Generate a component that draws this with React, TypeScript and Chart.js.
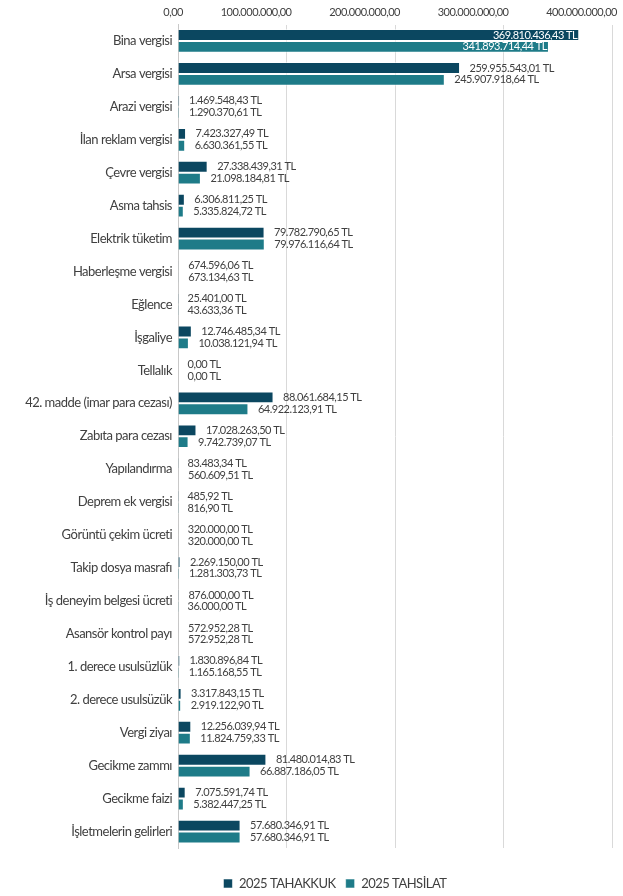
import React, { useEffect, useRef } from 'react';
import { Chart, registerables } from 'chart.js';

Chart.register(...registerables);

const categories = [
  'Bina vergisi',
  'Arsa vergisi',
  'Arazi vergisi',
  'İlan reklam vergisi',
  'Çevre vergisi',
  'Asma tahsis',
  'Elektrik tüketim',
  'Haberleşme vergisi',
  'Eğlence',
  'İşgaliye',
  'Tellalık',
  '42. madde (imar para cezası)',
  'Zabıta para cezası',
  'Yapılandırma',
  'Deprem ek vergisi',
  'Görüntü çekim ücreti',
  'Takip dosya masrafı',
  'İş deneyim belgesi ücreti',
  'Asansör kontrol payı',
  '1. derece usulsüzlük',
  '2. derece usulsüzük',
  'Vergi ziyaı',
  'Gecikme zammı',
  'Gecikme faizi',
  'İşletmelerin gelirleri',
];

const tahakkuk = [
  369810436.43, 259955543.01, 1469548.43, 7423327.49, 27338439.31, 6306811.25,
  79782790.65, 674596.06, 25401.0, 12746485.34, 0, 88061684.15, 17028263.5,
  83483.34, 485.92, 320000.0, 2269150.0, 876000.0, 572952.28, 1830896.84,
  3317843.15, 12256039.94, 81480014.83, 7075591.74, 57680346.91,
];

const tahsilat = [
  341893714.44, 245907918.64, 1290370.61, 6630361.55, 21098184.81, 5335824.72,
  79976116.64, 673134.63, 43633.36, 10038121.94, 0, 64922123.91, 9742739.07,
  560609.51, 816.9, 320000.0, 1281303.73, 36000.0, 572952.28, 1165168.55,
  2919122.9, 11824759.33, 66887186.05, 5382447.25, 57680346.91,
];

const seriesNames = ['2025 TAHAKKUK', '2025 TAHSİLAT'];
const xTickValues = [0, 100000000, 200000000, 300000000, 400000000];

const COLORS = ['#0B4760', '#1E7B88'];
const FONT = 'Lato, "Open Sans", sans-serif';
const SPACING = '-0.5px';
const LEGEND_SHIFT = 29;

function fmt(v: number): string {
  const fixed = v.toFixed(2);
  const [i, d] = fixed.split('.');
  const withDots = i.replace(/\B(?=(\d{3})+(?!\d))/g, '.');
  return withDots + ',' + d;
}

const narrowText = {
  id: 'narrowText',
  beforeLayout(chart: any) {
    (chart.ctx as any).letterSpacing = SPACING;
  },
  afterLayout(chart: any) {
    if (chart.legend) {
      chart.legend.left += LEGEND_SHIFT;
      chart.legend.right += LEGEND_SHIFT;
    }
  },
  beforeDraw(chart: any) {
    (chart.ctx as any).letterSpacing = SPACING;
  },
};

const valueLabels = {
  id: 'valueLabels',
  afterDatasetsDraw(chart: any) {
    const ctx = chart.ctx;
    ctx.save();
    ctx.letterSpacing = SPACING;
    ctx.font = `11px ${FONT}`;
    ctx.textBaseline = 'middle';
    chart.data.datasets.forEach((ds: any, di: number) => {
      const meta = chart.getDatasetMeta(di);
      meta.data.forEach((bar: any, i: number) => {
        const v = ds.data[i];
        const text = fmt(v) + ' TL';
        const w = ctx.measureText(text).width;
        const x = bar.x;
        const y = bar.y;
        if (x + 9.5 + w > chart.width - 2) {
          ctx.fillStyle = '#ffffff';
          ctx.textAlign = 'right';
          ctx.fillText(text, x - 2, y);
        } else {
          ctx.fillStyle = '#404040';
          ctx.textAlign = 'left';
          ctx.fillText(text, x + 9.5, y);
        }
      });
    });
    ctx.restore();
  },
};

export default function App() {
  const ref = useRef<HTMLCanvasElement | null>(null);

  useEffect(() => {
    if (!ref.current) return;
    const chart = new Chart(ref.current, {
      type: 'bar',
      data: {
        labels: categories,
        datasets: [
          {
            label: seriesNames[0],
            data: tahakkuk,
            backgroundColor: COLORS[0],
            borderColor: 'rgba(255,255,255,0.55)',
            borderWidth: 1,
            categoryPercentage: 0.72,
            barPercentage: 1,
          },
          {
            label: seriesNames[1],
            data: tahsilat,
            backgroundColor: COLORS[1],
            borderColor: 'rgba(255,255,255,0.55)',
            borderWidth: 1,
            categoryPercentage: 0.72,
            barPercentage: 1,
          },
        ],
      },
      plugins: [narrowText, valueLabels],
      options: {
        indexAxis: 'y',
        animation: false,
        responsive: false,
        maintainAspectRatio: false,
        layout: { padding: { left: 0, right: 11, top: 0, bottom: -4 } },
        scales: {
          x: {
            position: 'top',
            min: 0,
            max: 400000000,
            afterBuildTicks: (scale: any) => {
              scale.ticks = xTickValues.map((v) => ({ value: v }));
            },
            afterFit: (scale: any) => {
              scale.height = 24.5;
            },
            grid: { color: '#d9d9d9', drawTicks: false },
            border: { display: false },
            ticks: {
              align: 'end',
              labelOffset: 5,
              padding: 5,
              color: '#404040',
              font: { family: FONT, size: 11 },
              callback: (v: any) => fmt(Number(v)),
            },
          },
          x2: {
            type: 'linear',
            position: 'bottom',
            display: true,
            grid: { display: false, drawTicks: false },
            border: { display: false },
            ticks: { display: false },
            afterFit: (scale: any) => {
              scale.height = 19;
            },
          },
          y: {
            afterFit: (scale: any) => {
              scale.width = 178;
            },
            grid: { display: false, drawTicks: false },
            border: { display: true, color: '#c8c8c8', width: 1 },
            ticks: {
              padding: 6,
              color: '#404040',
              font: { family: FONT, size: 13 },
              autoSkip: false,
            },
          },
        },
        plugins: {
          legend: {
            position: 'bottom',
            labels: {
              boxWidth: 9,
              boxHeight: 9,
              padding: 10,
              color: '#404040',
              font: { family: FONT, size: 13 },
            },
          },
          tooltip: { enabled: false },
        },
      } as any,
    });
    return () => chart.destroy();
  }, []);

  return (
    <div style={{ position: 'fixed', left: 0, top: 0, width: 623, height: 896, background: '#fff' }}>
      <canvas ref={ref} width={623} height={896} style={{ display: 'block', width: 623, height: 896 }} />
    </div>
  );
}
